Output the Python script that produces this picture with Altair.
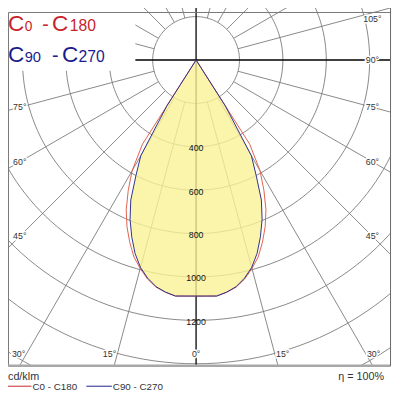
import math
import altair as alt
import pandas as pd

# ---------------- data ----------------
gamma_deg = [0, 2.5, 5, 7.5, 10, 12.5, 15, 17.5, 20, 22.5, 25, 27.5, 30, 32.5, 35, 40]
i_c0_c180 = [1088, 1089, 1092, 1080, 1063, 1034, 995, 952, 894, 832, 762, 677, 590, 460, 0, 0]
i_c90_c270 = [1088, 1089, 1092, 1079, 1061, 1030, 990, 935, 867, 795, 712, 600, 510, 250, 0, 0]

ring_values = [200, 400, 600, 800, 1000, 1200, 1400, 1600, 1800]
ring_labels = [400, 600, 800, 1000, 1200]
radial_angles = [a for a in range(-165, 180, 15) if a not in (0, 90, -90)]
angle_labels = [-75, -60, -45, -30, -15, 0, 15, 30, 45, 60, 75, 90, 105]

title1 = [("C", 23), ("0", 14), ("-", 20), ("C", 23), ("180", 16)]
title2 = [("C", 23), ("90", 15), ("-", 20), ("C", 23), ("270", 16)]
unit_text = "cd/klm"
eta_text = "η = 100%"
legend_names = ["C0 - C180", "C90 - C270"]

# ---------------- geometry / style constants ----------------
FONT = "Liberation Sans"
RED = "#c8232b"
BLUE = "#1c1c8c"
RED_LINE = "#e0604a"
BLUE_LINE = "#2e2e8e"
GRID = "#7a7a7a"
FILL = "#faf397"

S = 0.2215          # px per cd
W, H = 396, 367     # plot frame in px
CX, CY = 198, 55    # pole position inside frame (px)

xs = alt.Scale(domain=[-CX / S, (W - CX) / S], nice=False, zero=False)
ys = alt.Scale(domain=[-(H - CY) / S, CY / S], nice=False, zero=False)


def X(f="x"):
    return alt.X(f"{f}:Q", scale=xs, axis=None)


def Y(f="y"):
    return alt.Y(f"{f}:Q", scale=ys, axis=None)


# ---------------- grid ----------------
ring_rows = []
for r in ring_values:
    for k in range(0, 361, 2):
        t = math.radians(k)
        ring_rows.append({"ring": r, "k": k, "x": r * math.sin(t), "y": r * math.cos(t)})
rings = alt.Chart(pd.DataFrame(ring_rows)).mark_line(
    color=GRID, strokeWidth=0.9, clip=True
).encode(x=X(), y=Y(), detail="ring:N", order="k:Q")

rad_rows = []
for a in radial_angles:
    t = math.radians(a)
    rad_rows.append({"x": 200 * math.sin(t), "y": -200 * math.cos(t),
                     "x2": 3000 * math.sin(t), "y2": -3000 * math.cos(t)})
radials = alt.Chart(pd.DataFrame(rad_rows)).mark_rule(
    color=GRID, strokeWidth=0.9, clip=True
).encode(x=X(), y=Y(), x2="x2:Q", y2="y2:Q")

main_rows = [
    {"x": -3000, "y": 0, "x2": 3000, "y2": 0},
    {"x": 0, "y": 0, "x2": 0, "y2": -3000},
    {"x": 0, "y": 0, "x2": 0, "y2": 3000},
]
main_axes = alt.Chart(pd.DataFrame(main_rows)).mark_rule(
    color="black", strokeWidth=1.3, clip=True
).encode(x=X(), y=Y(), x2="x2:Q", y2="y2:Q")

one = pd.DataFrame({"a": [0]})
title_box = alt.Chart(one).mark_rect(color="white").encode(
    x=alt.value(0), x2=alt.value(136), y=alt.value(0), y2=alt.value(66)
)


# ---------------- light distribution ----------------
def polygon(inten, name):
    rows = []
    n = 0
    for g, i in zip(gamma_deg, inten):
        t = math.radians(g)
        rows.append({"plane": name, "idx": n, "x": i * math.sin(t), "y": -i * math.cos(t)})
        n += 1
    for g, i in zip(reversed(gamma_deg), reversed(inten)):
        t = math.radians(g)
        rows.append({"plane": name, "idx": n, "x": -i * math.sin(t), "y": -i * math.cos(t)})
        n += 1
    return pd.DataFrame(rows)


poly_red = polygon(i_c0_c180, legend_names[0])
poly_blue = polygon(i_c90_c270, legend_names[1])

fill = alt.Chart(poly_blue).mark_line(
    fill=FILL, fillOpacity=0.8, strokeWidth=0, interpolate="linear-closed"
).encode(x=X(), y=Y(), order="idx:Q")
curve_red = alt.Chart(poly_red).mark_line(color=RED_LINE, strokeWidth=1).encode(
    x=X(), y=Y(), order="idx:Q")
curve_blue = alt.Chart(poly_blue).mark_line(color=BLUE_LINE, strokeWidth=1).encode(
    x=X(), y=Y(), order="idx:Q")

# ring value labels
rl = pd.DataFrame({"x": [0] * len(ring_labels), "y": [-v for v in ring_labels],
                   "t": [str(v) for v in ring_labels]})
ring_text = alt.Chart(rl).mark_text(
    font=FONT, fontSize=9, color="#111", baseline="middle", dy=1.5
).encode(x=X(), y=Y(), text="t:N")

# angle labels along the frame
lab_rows = []
HALF, BOT, TOP = 180, 300, 42
for a in angle_labels:
    t = math.radians(a)
    sx, cy = math.sin(t), math.cos(t)
    dx = 0
    if abs(sx) < 1e-9:
        px, py = 0, BOT
    else:
        tt = HALF / abs(sx)
        px, py = HALF * (1 if sx > 0 else -1), tt * cy
        if py > BOT:
            tt = BOT / cy
            px, py = tt * sx, BOT
            dx = 8 if sx > 0 else -8
        py = max(py, -TOP)
    lab_rows.append({"x": px / S, "y": -py / S, "t": f"{abs(a)}°", "dx": dx})
lab_df = pd.DataFrame(lab_rows)
lab_halo = alt.Chart(lab_df).transform_calculate(xx="datum.x + datum.dx / %f" % S).mark_text(
    font=FONT, fontSize=9, color="white", stroke="white", strokeWidth=3, baseline="middle"
).encode(x=X("xx"), y=Y(), text="t:N")
lab_text = alt.Chart(lab_df).transform_calculate(xx="datum.x + datum.dx / %f" % S).mark_text(
    font=FONT, fontSize=9, color="#333", baseline="middle"
).encode(x=X("xx"), y=Y(), text="t:N")


# ---------------- titles / annotations (page px -> view px) ----------------
def txt(s, x, y, size, color, align="left"):
    return alt.Chart(pd.DataFrame({"t": [s]})).mark_text(
        font=FONT, fontSize=size, color=color, align=align, baseline="alphabetic"
    ).encode(x=alt.value(x - 2), y=alt.value(y - 2), text="t:N")


title_layers = []
for (s, size), xp in zip(title1, [8, 25, 43, 53, 71]):
    title_layers.append(txt(s, xp, 27, size, RED))
for (s, size), xp in zip(title2, [8, 25, 53, 63, 80]):
    title_layers.append(txt(s, xp, 59, size, BLUE))

# frame edges (left/top drawn at the visible page edge)
frame_left = alt.Chart(one).mark_rule(color="#777", strokeWidth=1).encode(
    x=alt.value(6.5), y=alt.value(6.5), y2=alt.value(H))
frame_top = alt.Chart(one).mark_rule(color="#777", strokeWidth=1).encode(
    y=alt.value(6.5), x=alt.value(6.5), x2=alt.value(W))
bottom_line = alt.Chart(one).mark_rule(color="#a8a8a8", strokeWidth=2.5).encode(
    x=alt.value(0), x2=alt.value(W), y=alt.value(H))

unit = txt(unit_text, 8, 384, 11, "#333")
eta = txt(eta_text, 392, 384, 11, "#333", align="right")
leg_r = alt.Chart(one).mark_rule(color=RED, strokeWidth=1).encode(
    x=alt.value(6), x2=alt.value(30), y=alt.value(388))
leg_b = alt.Chart(one).mark_rule(color=BLUE, strokeWidth=1).encode(
    x=alt.value(86), x2=alt.value(112), y=alt.value(388))
leg_t1 = txt(legend_names[0], 33, 394, 10, "#333")
leg_t2 = txt(legend_names[1], 115, 394, 10, "#333")

chart = alt.layer(
    rings, radials, main_axes, title_box, fill, curve_red, curve_blue,
    ring_text, lab_halo, lab_text, *title_layers, frame_left, frame_top, bottom_line,
    unit, eta, leg_r, leg_b, leg_t1, leg_t2,
).properties(
    width=W, height=H,
    autosize=alt.AutoSizeParams(type="none"),
    padding={"left": -6, "top": -6, "right": 2, "bottom": 31},
).configure_view(stroke="#666", strokeWidth=1)

chart.save("out.html", embed_options={"renderer": "svg", "actions": False})
